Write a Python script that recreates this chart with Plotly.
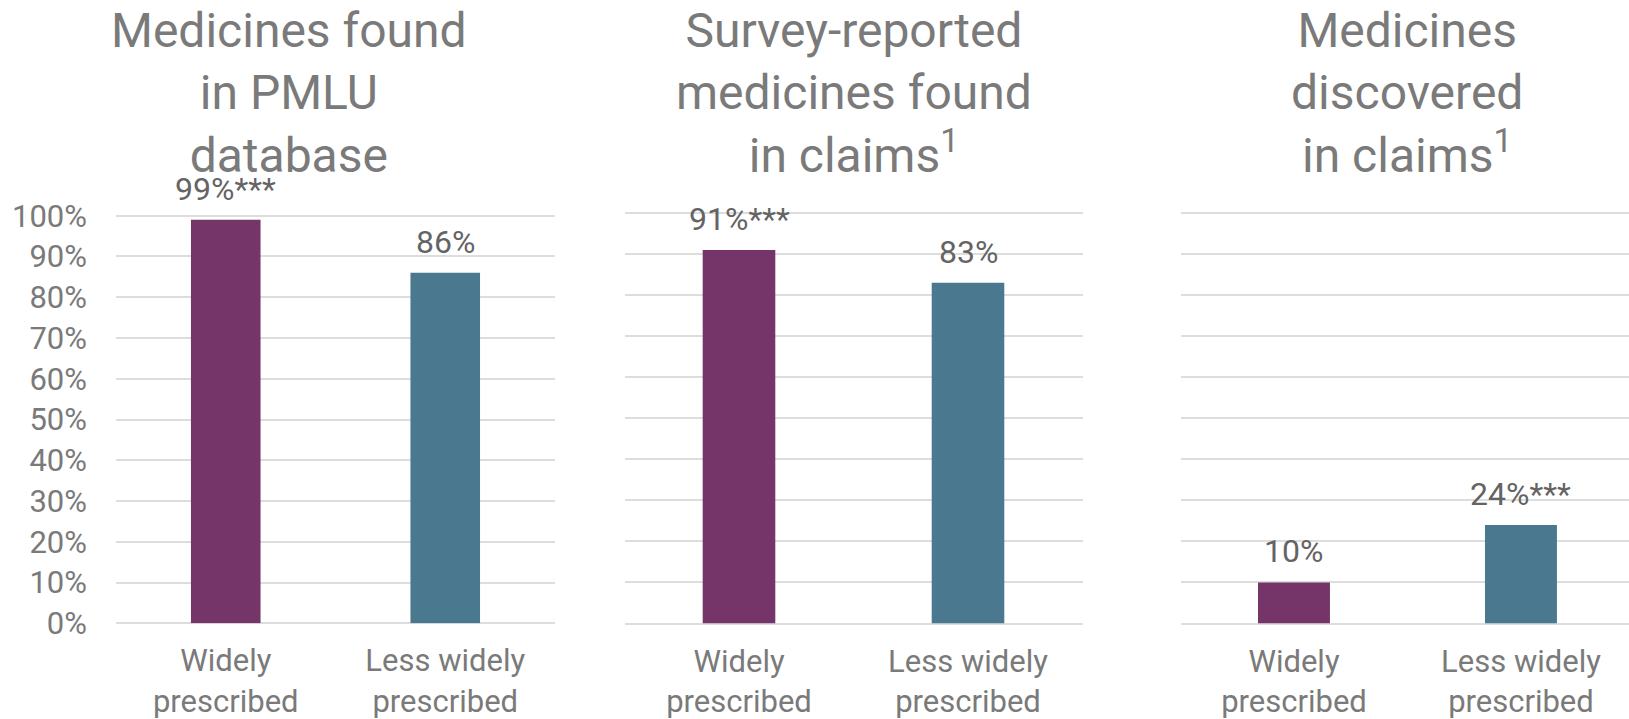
import plotly.graph_objects as go

# ---- data ----
categories = ["Widely<br>prescribed", "Less widely<br>prescribed"]
panel_titles = [
    "Medicines found<br>in PMLU<br>database",
    "Survey-reported<br>medicines found<br>in claims<sup>1</sup>",
    "Medicines<br>discovered<br>in claims<sup>1</sup>",
]
values_pmlu = [0.99, 0.86]
values_survey = [0.91, 0.83]
values_discovered = [0.10, 0.24]
sig_pmlu = ["***", ""]
sig_survey = ["***", ""]
sig_discovered = ["", "***"]
y_tick_values = [0, 0.1, 0.2, 0.3, 0.4, 0.5, 0.6, 0.7, 0.8, 0.9, 1.0]

# ---- style ----
W, H = 1629, 719
bar_colors = ["#763568", "#4A798F"]
grey = "#7A7A7A"
label_grey = "#646464"
grid = "#DDDDDD"
FONT = "Roboto"
YMAX = 1.03  # small headroom so the 100% gridline is drawn inside the plot

panels = [
    dict(values=values_pmlu, sig=sig_pmlu, xdom=(116, 555), ypix=(623.3, 215.7),
         xrange=[-0.5, 1.5], title_x=289),
    dict(values=values_survey, sig=sig_survey, xdom=(624.5, 1082.5), ypix=(623.5, 213.0),
         xrange=[-0.5, 1.5], title_x=853.5),
    dict(values=values_discovered, sig=sig_discovered, xdom=(1180.5, 1629), ypix=(623.5, 213.0),
         xrange=[-0.5, 1.476], title_x=1407),
]

fig = go.Figure()
annotations = []
layout = dict(
    width=W, height=H, margin=dict(l=0, r=0, t=0, b=0, autoexpand=False),
    paper_bgcolor="white", plot_bgcolor="white",
    showlegend=False, bargap=0.683,
    font=dict(family=FONT, color=grey),
)

for i, p in enumerate(panels):
    suffix = "" if i == 0 else str(i + 1)
    xa, ya = "x" + suffix, "y" + suffix
    fig.add_trace(go.Bar(
        x=categories, y=p["values"], marker=dict(color=bar_colors, line=dict(width=0)),
        xaxis=xa, yaxis=ya, hoverinfo="skip",
    ))
    y0, y100 = p["ypix"]
    ytop = y0 - (y0 - y100) * YMAX
    layout["xaxis" + suffix] = dict(
        domain=[p["xdom"][0] / W, p["xdom"][1] / W], range=p["xrange"],
        showgrid=False, showline=False, zeroline=False, ticks="",
        tickfont=dict(size=31, color=grey, family=FONT), ticklabelstandoff=16,
        anchor=ya, fixedrange=True, automargin=False,
    )
    layout["yaxis" + suffix] = dict(
        domain=[(H - y0) / H, (H - ytop) / H], range=[0, YMAX],
        tickvals=y_tick_values, tickformat=".0%",
        showgrid=True, gridcolor=grid, gridwidth=1.5,
        zeroline=True, zerolinecolor=grid, zerolinewidth=1.5,
        showline=False, ticks="", showticklabels=(i == 0),
        tickfont=dict(size=31, color=grey, family=FONT), ticklabelstandoff=28,
        anchor=xa, fixedrange=True, automargin=False,
    )
    for cat, v, s in zip(categories, p["values"], p["sig"]):
        annotations.append(dict(
            x=cat, y=v, xref=xa, yref=ya, text=f"{round(v * 100)}%{s}",
            showarrow=False, yanchor="bottom", yshift=10,
            font=dict(size=32, color=label_grey, family=FONT),
        ))
    annotations.append(dict(
        x=p["title_x"] / W, y=1, xref="paper", yref="paper", xanchor="center", yanchor="top",
        text=panel_titles[i], showarrow=False, align="center",
        font=dict(size=48, color=grey, family=FONT),
    ))

layout["annotations"] = annotations
fig.update_layout(**layout)
fig.write_html("out.html")
